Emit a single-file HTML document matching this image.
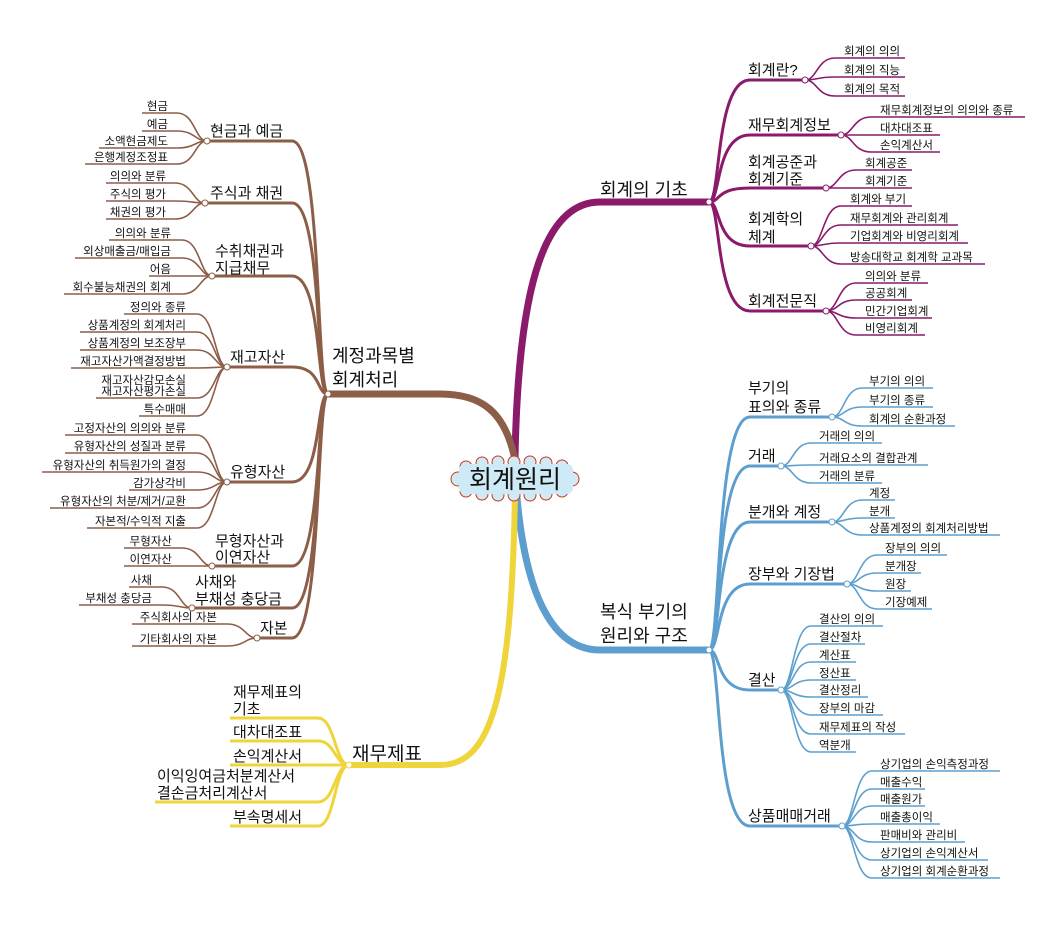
<!DOCTYPE html>
<html><head><meta charset="utf-8"><style>
html,body{margin:0;padding:0;background:#fff;}
svg{display:block;font-family:"Liberation Sans","Noto Sans CJK KR","NanumGothic",sans-serif;}
.l{font-size:11.5px;fill:#111;}
.s{font-size:15px;fill:#111;}
.m{font-size:18px;fill:#111;}
.p{fill:none;stroke:#8b1a6b;}
.b{fill:none;stroke:#5c9fcf;}
.r{fill:none;stroke:#8c5e48;}
.y{fill:none;stroke:#efd43a;}
circle{stroke-width:1;}
</style></head><body>
<svg width="1053" height="944" viewBox="0 0 1053 944" xmlns="http://www.w3.org/2000/svg">
<path class="p" stroke-width="7" d="M515 458 C518 300 540 202 600 202 H709"/>
<path class="b" stroke-width="7" d="M515 470 C522 600 555 650 600 650 H709"/>
<path class="r" stroke-width="7" d="M515 460 C505 410 480 394 440 394 H328"/>
<path class="y" stroke-width="6" d="M515 490 C512 700 490 765 440 765 H349"/>

<g class="p" stroke-width="3">
<path d="M709 202 C721 202 715 80 750 80 H805"/>
<path d="M709 202 C721 202 715 135 750 135 H841"/>
<path d="M709 202 C721 202 715 188 750 188 H826"/>
<path d="M709 202 C721 202 715 246 750 246 H811"/>
<path d="M709 202 C721 202 715 311 750 311 H826"/>
</g>
<g class="p" stroke-width="1.6">
<path d="M805 80 C817 80 817 58 835 58 H905"/>
<path d="M805 80 C817 80 817 77 835 77 H905"/>
<path d="M805 80 C817 80 817 96 835 96 H905"/>
<path d="M841 135 C853 135 853 117 871 117 H1025"/>
<path d="M841 135 C853 135 853 135 871 135 H940"/>
<path d="M841 135 C853 135 853 152 871 152 H940"/>
<path d="M826 188 C838 188 838 170 856 170 H912"/>
<path d="M826 188 C838 188 838 188 856 188 H912"/>
<path d="M811 246 C823 246 823 206 841 206 H912"/>
<path d="M811 246 C823 246 823 225 841 225 H958"/>
<path d="M811 246 C823 246 823 243 841 243 H968"/>
<path d="M811 246 C823 246 823 264 841 264 H985"/>
<path d="M826 311 C838 311 838 283 856 283 H928"/>
<path d="M826 311 C838 311 838 300 856 300 H912"/>
<path d="M826 311 C838 311 838 318 856 318 H932"/>
<path d="M826 311 C838 311 838 335 856 335 H925"/>
</g>
<g fill="#fff" stroke="#8b1a6b"><circle cx="709" cy="202" r="3"/><circle cx="805" cy="80" r="3"/><circle cx="841" cy="135" r="3"/><circle cx="826" cy="188" r="3"/><circle cx="811" cy="246" r="3"/><circle cx="826" cy="311" r="3"/></g>
<text class="m" x="600" y="196">회계의 기초</text>
<text class="s" x="748" y="75">회계란?</text>
<text class="s" x="748" y="130">재무회계정보</text>
<text class="s" x="748" y="167">회계공준과</text><text class="s" x="748" y="184">회계기준</text>
<text class="s" x="748" y="224">회계학의</text><text class="s" x="748" y="242">체계</text>
<text class="s" x="748" y="306">회계전문직</text>
<text class="l" x="844" y="55">회계의 의의</text>
<text class="l" x="844" y="74">회계의 직능</text>
<text class="l" x="844" y="93">회계의 목적</text>
<text class="l" x="880" y="114">재무회계정보의 의의와 종류</text>
<text class="l" x="880" y="132">대차대조표</text>
<text class="l" x="880" y="149">손익계산서</text>
<text class="l" x="865" y="167">회계공준</text>
<text class="l" x="865" y="185">회계기준</text>
<text class="l" x="850" y="203">회계와 부기</text>
<text class="l" x="850" y="222">재무회계와 관리회계</text>
<text class="l" x="850" y="240">기업회계와 비영리회계</text>
<text class="l" x="850" y="261">방송대학교 회계학 교과목</text>
<text class="l" x="865" y="280">의의와 분류</text>
<text class="l" x="865" y="297">공공회계</text>
<text class="l" x="865" y="315">민간기업회계</text>
<text class="l" x="865" y="332">비영리회계</text>

<g class="b" stroke-width="3">
<path d="M709 650 C721 650 715 417 750 417 H832"/>
<path d="M709 650 C721 650 715 466 750 466 H781"/>
<path d="M709 650 C721 650 715 522 750 522 H832"/>
<path d="M709 650 C721 650 715 584 750 584 H847"/>
<path d="M709 650 C721 650 715 690 750 690 H781"/>
<path d="M709 650 C721 650 715 826 750 826 H842"/>
</g>
<g class="b" stroke-width="1.6">
<path d="M832 417 C844 417 844 388 862 388 H933"/>
<path d="M832 417 C844 417 844 407 862 407 H933"/>
<path d="M832 417 C844 417 844 426 862 426 H955"/>
<path d="M781 466 C793 466 793 443 811 443 H882"/>
<path d="M781 466 C793 466 793 465 811 465 H928"/>
<path d="M781 466 C793 466 793 483 811 483 H882"/>
<path d="M832 522 C844 522 844 500 862 500 H895"/>
<path d="M832 522 C844 522 844 518 862 518 H895"/>
<path d="M832 522 C844 522 844 535 862 535 H1000"/>
<path d="M847 584 C859 584 859 555 877 555 H947"/>
<path d="M847 584 C859 584 859 573 877 573 H921"/>
<path d="M847 584 C859 584 859 591 877 591 H911"/>
<path d="M847 584 C859 584 859 609 877 609 H932"/>
<path d="M781 690 C793 690 793 626 811 626 H883"/>
<path d="M781 690 C793 690 793 644 811 644 H865"/>
<path d="M781 690 C793 690 793 662 811 662 H856"/>
<path d="M781 690 C793 690 793 680 811 680 H856"/>
<path d="M781 690 C793 690 793 697 811 697 H868"/>
<path d="M781 690 C793 690 793 715 811 715 H883"/>
<path d="M781 690 C793 690 793 734 811 734 H905"/>
<path d="M781 690 C793 690 793 752 811 752 H856"/>
<path d="M842 826 C854 826 854 771 872 771 H1000"/>
<path d="M842 826 C854 826 854 789 872 789 H925"/>
<path d="M842 826 C854 826 854 806 872 806 H925"/>
<path d="M842 826 C854 826 854 824 872 824 H940"/>
<path d="M842 826 C854 826 854 842 872 842 H965"/>
<path d="M842 826 C854 826 854 860 872 860 H988"/>
<path d="M842 826 C854 826 854 878 872 878 H1000"/>
</g>
<g fill="#fff" stroke="#5c9fcf"><circle cx="709" cy="650" r="3"/><circle cx="832" cy="417" r="3"/><circle cx="781" cy="466" r="3"/><circle cx="832" cy="522" r="3"/><circle cx="847" cy="584" r="3"/><circle cx="781" cy="690" r="3"/><circle cx="842" cy="826" r="3"/></g>
<text class="m" x="600" y="618">복식 부기의</text><text class="m" x="600" y="642">원리와 구조</text>
<text class="s" x="748" y="393">부기의</text><text class="s" x="748" y="412">표의와 종류</text>
<text class="s" x="748" y="461">거래</text>
<text class="s" x="748" y="517">분개와 계정</text>
<text class="s" x="748" y="579">장부와 기장법</text>
<text class="s" x="748" y="685">결산</text>
<text class="s" x="748" y="821">상품매매거래</text>
<text class="l" x="869" y="385">부기의 의의</text>
<text class="l" x="869" y="404">부기의 종류</text>
<text class="l" x="869" y="423">회계의 순환과정</text>
<text class="l" x="819" y="440">거래의 의의</text>
<text class="l" x="819" y="462">거래요소의 결합관계</text>
<text class="l" x="819" y="480">거래의 분류</text>
<text class="l" x="869" y="497">계정</text>
<text class="l" x="869" y="515">분개</text>
<text class="l" x="869" y="532">상품계정의 회계처리방법</text>
<text class="l" x="885" y="552">장부의 의의</text>
<text class="l" x="885" y="570">분개장</text>
<text class="l" x="885" y="588">원장</text>
<text class="l" x="885" y="606">기장예제</text>
<text class="l" x="819" y="623">결산의 의의</text>
<text class="l" x="819" y="641">결산절차</text>
<text class="l" x="819" y="659">계산표</text>
<text class="l" x="819" y="677">정산표</text>
<text class="l" x="819" y="694">결산정리</text>
<text class="l" x="819" y="712">장부의 마감</text>
<text class="l" x="819" y="731">재무제표의 작성</text>
<text class="l" x="819" y="749">역분개</text>
<text class="l" x="880" y="768">상기업의 손익측정과정</text>
<text class="l" x="880" y="786">매출수익</text>
<text class="l" x="880" y="803">매출원가</text>
<text class="l" x="880" y="821">매출총이익</text>
<text class="l" x="880" y="839">판매비와 관리비</text>
<text class="l" x="880" y="857">상기업의 손익계산서</text>
<text class="l" x="880" y="875">상기업의 회계순환과정</text>

<g class="r" stroke-width="3">
<path d="M328 394 C316 394 322 141 292 141 H207"/>
<path d="M328 394 C316 394 322 203 292 203 H205"/>
<path d="M328 394 C316 394 322 276 292 276 H212"/>
<path d="M328 394 C316 394 322 367 292 367 H227"/>
<path d="M328 394 C316 394 322 482 292 482 H227"/>
<path d="M328 394 C316 394 322 566 292 566 H212"/>
<path d="M328 394 C316 394 322 608 292 608 H192"/>
<path d="M328 394 C316 394 322 638 292 638 H257"/>
</g>
<g class="r" stroke-width="1.6">
<path d="M207 141 C195 141 195 113 177 113 H142"/>
<path d="M207 141 C195 141 195 131 177 131 H142"/>
<path d="M207 141 C195 141 195 148 177 148 H99"/>
<path d="M207 141 C195 141 195 164 177 164 H85"/>
<path d="M205 203 C193 203 193 183 175 183 H106"/>
<path d="M205 203 C193 203 193 201 175 201 H106"/>
<path d="M205 203 C193 203 193 219 175 219 H106"/>
<path d="M212 276 C200 276 200 240 182 240 H109"/>
<path d="M212 276 C200 276 200 258 182 258 H75"/>
<path d="M212 276 C200 276 200 276 182 276 H149"/>
<path d="M212 276 C200 276 200 294 182 294 H64"/>
<path d="M227 367 C215 367 215 314 197 314 H124"/>
<path d="M227 367 C215 367 215 332 197 332 H80"/>
<path d="M227 367 C215 367 215 350 197 350 H80"/>
<path d="M227 367 C215 367 215 368 197 368 H71"/>
<path d="M227 367 C215 367 215 398 197 398 H96"/>
<path d="M227 367 C215 367 215 416 197 416 H139"/>
<path d="M227 482 C215 482 215 435 197 435 H65"/>
<path d="M227 482 C215 482 215 453 197 453 H65"/>
<path d="M227 482 C215 482 215 472 197 472 H42"/>
<path d="M227 482 C215 482 215 490 197 490 H129"/>
<path d="M227 482 C215 482 215 508 197 508 H50"/>
<path d="M227 482 C215 482 215 528 197 528 H87"/>
<path d="M212 566 C200 566 200 548 182 548 H124"/>
<path d="M212 566 C200 566 200 566 182 566 H124"/>
<path d="M192 608 C180 608 180 587 162 587 H129"/>
<path d="M192 608 C180 608 180 605 162 605 H79"/>
<path d="M257 638 C245 638 245 624 227 624 H132"/>
<path d="M257 638 C245 638 245 646 227 646 H132"/>
</g>
<g fill="#fff" stroke="#8c5e48"><circle cx="328" cy="394" r="3"/><circle cx="207" cy="141" r="3"/><circle cx="205" cy="203" r="3"/><circle cx="212" cy="276" r="3"/><circle cx="227" cy="367" r="3"/><circle cx="227" cy="482" r="3"/><circle cx="212" cy="566" r="3"/><circle cx="192" cy="608" r="3"/><circle cx="257" cy="638" r="3"/></g>
<text class="m" x="332" y="362">계정과목별</text><text class="m" x="332" y="386">회계처리</text>
<text class="s" x="210" y="136">현금과 예금</text>
<text class="s" x="210" y="198">주식과 채권</text>
<text class="s" x="215" y="256">수취채권과</text><text class="s" x="215" y="273">지급채무</text>
<text class="s" x="230" y="362">재고자산</text>
<text class="s" x="230" y="477">유형자산</text>
<text class="s" x="215" y="546">무형자산과</text><text class="s" x="215" y="562">이연자산</text>
<text class="s" x="195" y="587">사채와</text><text class="s" x="195" y="604">부채성 충당금</text>
<text class="s" x="260" y="633">자본</text>
<g text-anchor="end">
<text class="l" x="168" y="110">현금</text>
<text class="l" x="168" y="128">예금</text>
<text class="l" x="168" y="145">소액현금제도</text>
<text class="l" x="168" y="161">은행계정조정표</text>
<text class="l" x="166" y="180">의의와 분류</text>
<text class="l" x="166" y="198">주식의 평가</text>
<text class="l" x="166" y="216">채권의 평가</text>
<text class="l" x="171" y="237">의의와 분류</text>
<text class="l" x="171" y="255">외상매출금/매입금</text>
<text class="l" x="171" y="273">어음</text>
<text class="l" x="171" y="291">회수불능채권의 회계</text>
<text class="l" x="186" y="311">정의와 종류</text>
<text class="l" x="186" y="329">상품계정의 회계처리</text>
<text class="l" x="186" y="347">상품계정의 보조장부</text>
<text class="l" x="186" y="365">재고자산가액결정방법</text>
<text class="l" x="186" y="384">재고자산감모손실</text>
<text class="l" x="186" y="395">재고자산평가손실</text>
<text class="l" x="186" y="413">특수매매</text>
<text class="l" x="186" y="432">고정자산의 의의와 분류</text>
<text class="l" x="186" y="450">유형자산의 성질과 분류</text>
<text class="l" x="186" y="469">유형자산의 취득원가의 결정</text>
<text class="l" x="186" y="487">감가상각비</text>
<text class="l" x="186" y="505">유형자산의 처분/제거/교환</text>
<text class="l" x="186" y="525">자본적/수익적 지출</text>
<text class="l" x="172" y="545">무형자산</text>
<text class="l" x="172" y="563">이연자산</text>
<text class="l" x="152" y="584">사채</text>
<text class="l" x="152" y="602">부채성 충당금</text>
<text class="l" x="217" y="621">주식회사의 자본</text>
<text class="l" x="217" y="643">기타회사의 자본</text>
</g>

<g class="y" stroke-width="3">
<path d="M349 765 C335 765 335 718 318 718 H230"/>
<path d="M349 765 C335 765 335 741 318 741 H230"/>
<path d="M349 765 C335 765 335 765 318 765 H230"/>
<path d="M349 765 C335 765 335 802 318 802 H155"/>
<path d="M349 765 C335 765 335 826 318 826 H230"/>
</g>
<circle cx="349" cy="765" r="3" fill="#fff" stroke="#efd43a"/>
<text class="m" x="352" y="760" style="font-size:19px">재무제표</text>
<text class="s" x="233" y="697">재무제표의</text><text class="s" x="233" y="714">기초</text>
<text class="s" x="233" y="737">대차대조표</text>
<text class="s" x="233" y="761">손익계산서</text>
<text class="s" x="157" y="781">이익잉여금처분계산서</text><text class="s" x="157" y="798">결손금처리계산서</text>
<text class="s" x="233" y="822">부속명세서</text>

<!-- center cloud -->
<g fill="#cfeaf7" stroke="#c8381a" stroke-width="2.5">
<circle cx="466" cy="467" r="6"/><circle cx="482" cy="463" r="6"/><circle cx="498" cy="462" r="6"/><circle cx="514" cy="462" r="6"/><circle cx="530" cy="462" r="6"/><circle cx="546" cy="463" r="6"/><circle cx="562" cy="466" r="6"/>
<circle cx="466" cy="491" r="6"/><circle cx="482" cy="494" r="6"/><circle cx="498" cy="495" r="6"/><circle cx="514" cy="495" r="6"/><circle cx="530" cy="495" r="6"/><circle cx="546" cy="494" r="6"/><circle cx="562" cy="491" r="6"/>
<circle cx="458" cy="479" r="7"/><circle cx="572" cy="479" r="7"/>
</g>
<rect x="459" y="464" width="114" height="30" rx="6" fill="#cfeaf7"/>
<text x="515" y="488" text-anchor="middle" style="font-size:25px;fill:#111">회계원리</text>
</svg>
</body></html>
